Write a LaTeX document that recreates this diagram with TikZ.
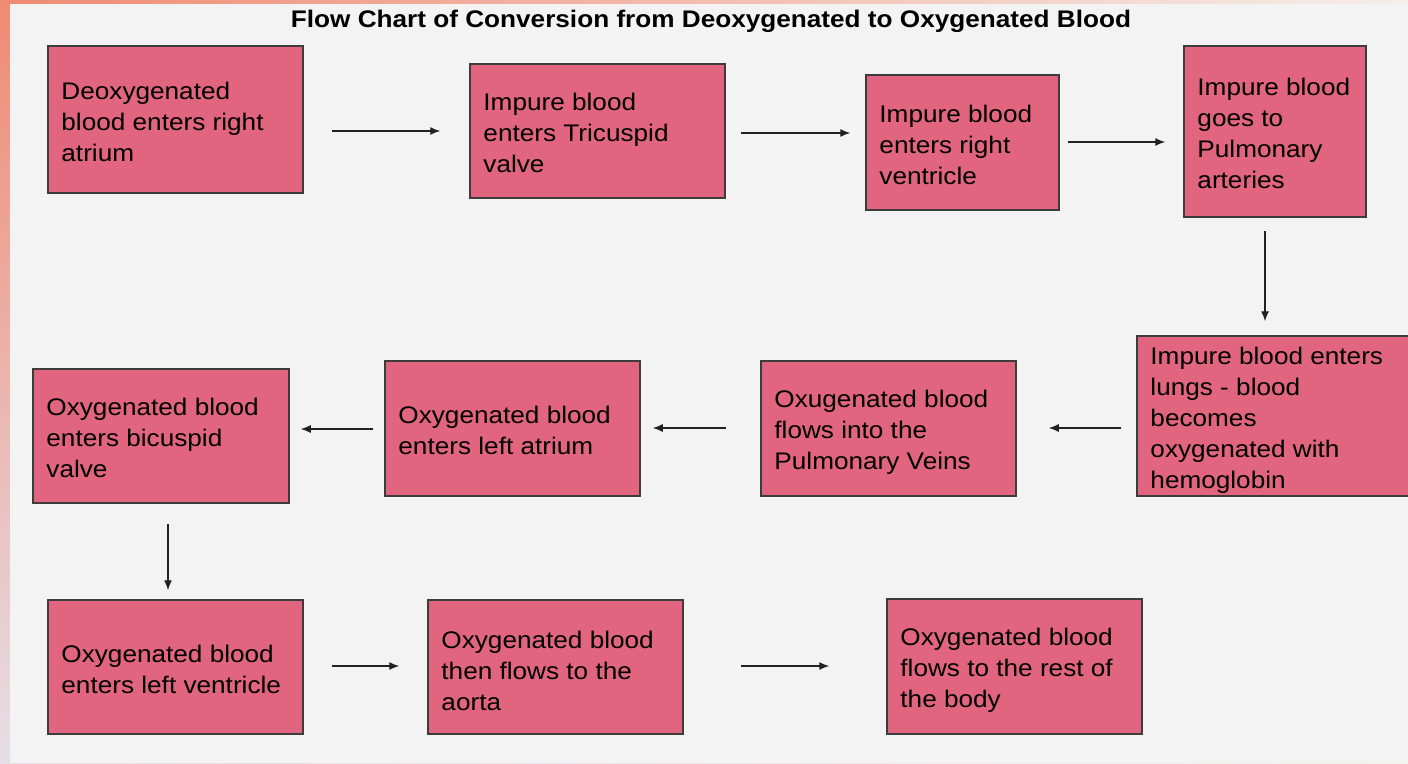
\documentclass[tikz,border=0pt]{standalone}
\usepackage{fontspec}
\setmainfont{Liberation Sans}[FakeStretch=1.09]
\usetikzlibrary{arrows.meta,positioning,shadings}
\definecolor{bg}{HTML}{F3F3F3}
\definecolor{boxfill}{HTML}{E1657F}
\definecolor{boxline}{HTML}{3C3C3C}
\definecolor{arrcol}{HTML}{222222}
\definecolor{salmon}{HTML}{EF8B73}
\definecolor{pale}{HTML}{F5EEEA}
\definecolor{lav}{HTML}{E6DEE6}
\tikzset{
  box/.style={draw=boxline, line width=1.5pt, fill=boxfill, inner sep=0pt},
  txt/.style={inner sep=0pt, align=left, font=\fontsize{24}{31}\selectfont, anchor=west},
  arr/.style={draw=arrcol, line width=1.3pt, -{Latex[length=10pt,width=8pt]}},
}
\newcommand{\flowbox}[7]{% name, left, top, right, bottom, text-yshift, text
  \node[box, minimum width=#4pt-#2pt, minimum height=#5pt-#3pt] (#1) at ({(#2+#4)/2},{(#3+#5)/2}) {};
  \node[txt] (#1t) at ([xshift=14pt,yshift=-#6pt]#1.west) {#7};
}
\begin{document}
\begin{tikzpicture}[x=1pt,y=-1pt]
\useasboundingbox (0,0) rectangle (1408,763);
\shade[upper left=salmon, upper right=pale, lower left=lav, lower right=pale] (0,0) rectangle (1408,763);
\fill[bg] (10,4) rectangle (1408,763);
\node[inner sep=0pt, font=\fontsize{24}{28}\selectfont\bfseries] (title) at (711,21) {Flow Chart of Conversion from Deoxygenated to Oxygenated Blood};
\begin{scope}
\clip (0,0) rectangle (1408,763);
\flowbox{b1}{48}{46}{303}{193}{2}{Deoxygenated\\blood enters right\\atrium}
\flowbox{b2}{470}{64}{725}{198}{2}{Impure blood\\enters Tricuspid\\valve}
\flowbox{b3}{866}{75}{1059}{210}{2}{Impure blood\\enters right\\ventricle}
\flowbox{b4}{1184}{46}{1366}{217}{2}{Impure blood\\goes to\\Pulmonary\\arteries}
\flowbox{b5}{1137}{336}{1420}{496}{4}{Impure blood enters\\lungs - blood\\becomes\\oxygenated with\\hemoglobin}
\flowbox{b6}{761}{361}{1016}{496}{4}{Oxugenated blood\\flows into the\\Pulmonary Veins}
\flowbox{b7}{385}{361}{640}{496}{2}{Oxygenated blood\\enters left atrium}
\flowbox{b8}{33}{369}{289}{503}{2}{Oxygenated blood\\enters bicuspid\\valve}
\flowbox{b9}{48}{600}{303}{734}{2}{Oxygenated blood\\enters left ventricle}
\flowbox{b10}{428}{600}{683}{734}{4}{Oxygenated blood\\then flows to the\\aorta}
\flowbox{b11}{887}{599}{1142}{734}{4}{Oxygenated blood\\flows to the rest of\\the body}
\end{scope}
\draw[arr, shorten <=28pt, shorten >=29pt] (b1.east |- 0,131) -- (b2.west |- 0,131);
\draw[arr, shorten <=15pt, shorten >=15pt] (b2.east |- 0,133) -- (b3.west |- 0,133);
\draw[arr, shorten <=8pt, shorten >=18pt] (b3.east |- 0,142) -- (b4.west |- 0,142);
\draw[arr, shorten <=13pt, shorten >=14pt] (b4.south -| 1265,0) -- (b5.north -| 1265,0);
\draw[arr, shorten <=15pt, shorten >=32pt] (b5.west |- 0,428) -- (b6.east |- 0,428);
\draw[arr, shorten <=34pt, shorten >=12pt] (b6.west |- 0,428) -- (b7.east |- 0,428);
\draw[arr, shorten <=11pt, shorten >=11pt] (b7.west |- 0,429) -- (b8.east |- 0,429);
\draw[arr, shorten <=20pt, shorten >=9pt] (b8.south -| 168,0) -- (b9.north -| 168,0);
\draw[arr, shorten <=28pt, shorten >=28pt] (b9.east |- 0,666) -- (b10.west |- 0,666);
\draw[arr, shorten <=57pt, shorten >=57pt] (b10.east |- 0,666) -- (b11.west |- 0,666);
\end{tikzpicture}
\end{document}
